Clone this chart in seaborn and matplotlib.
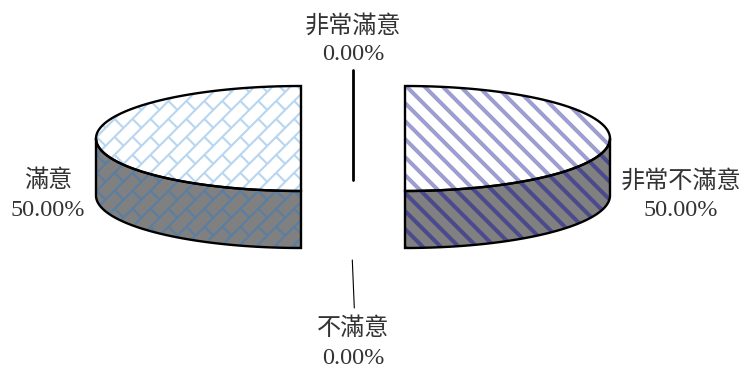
import numpy as np
import matplotlib
matplotlib.use("Agg")
import matplotlib.pyplot as plt
import seaborn as sns
from matplotlib.patches import Polygon
from matplotlib.collections import LineCollection

categories = ["非常不滿意", "不滿意", "滿意", "非常滿意"]
shares = [50.0, 0.0, 50.0, 0.0]

sns.set_theme(style="white")
plt.rcParams['font.family'] = ['Liberation Serif', 'Noto Sans CJK TC']

# pixel layout of the pie
RX, RY, DEPTH = 205, 52.5, 57
CX, CY = 353, 138.5
EXPLODE = 52
TILT = 0.3
BLUE_TOP, BLUE_SIDE = "#9d9dd2", "#4a4a8c"
BRICK_TOP, BRICK_SIDE = "#b8d6f0", "#5a7ea2"
WALL = "#808080"


def rim(cx, cy, a, b):
    t = np.radians(np.linspace(a, b, 200))
    return cx + RX * np.sin(t), cy - RY * np.cos(t)


def stripes(ax, patch, color):
    segs = [[(c, 0), (c + 372, 372)] for c in np.arange(-400, 744, 18)]
    lc = LineCollection(segs, colors=color, linewidths=2.9, zorder=2)
    ax.add_collection(lc)
    lc.set_clip_path(patch)


def bricks(ax, patch, color):
    # rows run up-right, short joints between them (u along the row, v across)
    row, length = 12.7, 25.4
    r2 = np.sqrt(2)
    segs = []
    for n, v in enumerate(np.arange(0, 800, row)):
        segs.append([((-600 + v) / r2, (v + 600) / r2), ((800 + v) / r2, (v - 800) / r2)])
        for u in np.arange(-600, 800, length) + (n % 2) * length / 2:
            segs.append([((u + v) / r2, (v - u) / r2), ((u + v + row) / r2, (v + row - u) / r2)])
    lc = LineCollection(segs, colors=color, linewidths=1.5, zorder=2)
    ax.add_collection(lc)
    lc.set_clip_path(patch)


def draw_half(ax, cx, a, b, top_col, side_col, hatch):
    xs, ys = rim(cx, CY, a, b)
    top = Polygon(np.c_[xs, ys], closed=True, fc="white", ec="none", zorder=1)
    ax.add_patch(top)
    # front wall only, angles 90-270
    fa, fb = max(a, 90), min(b, 270)
    xf, yf = rim(cx, CY, fa, fb)
    wall = np.r_[np.c_[xf, yf], np.c_[xf[::-1], yf[::-1] + DEPTH]]
    side = Polygon(wall, closed=True, fc=WALL, ec="none", zorder=1)
    ax.add_patch(side)
    hatch(ax, top, top_col)
    hatch(ax, side, side_col)
    ax.add_patch(Polygon(np.c_[xs, ys], closed=True, fc="none", ec="black", lw=1.7, zorder=3))
    ax.add_patch(Polygon(wall, closed=True, fc="none", ec="black", lw=1.7, zorder=3))


fig = plt.figure(figsize=(7.44, 3.72), dpi=100)
ax = fig.add_axes([0, 0, 1, 1])
ax.set_xlim(0, 744)
ax.set_ylim(372, 0)
ax.axis("off")

# slices go clockwise from the top
start = 0
for cat, val in zip(categories, shares):
    end = start + val * 3.6
    mid = (start + end) / 2
    if val > 0:
        cx = CX + EXPLODE * np.sin(np.radians(mid))
        draw_half(ax, cx, start, end, BLUE_TOP if mid < 180 else BRICK_TOP,
                  BLUE_SIDE if mid < 180 else BRICK_SIDE,
                  stripes if mid < 180 else bricks)
    elif mid == 360:
        # zero slice seen edge-on: rim to centre plus the wall
        cy = CY - EXPLODE * TILT
        ax.plot([CX, CX], [cy - RY, cy + DEPTH], color="black", lw=2.0, zorder=3)
    start = end

# leader line of the 0% slice at the bottom
ax.plot([352.3, 354.3], [260, 308], color="black", lw=0.8)

font = 17.4
label_pos = [(681, 195), (353, 343), (48, 195), (353, 40)]
for cat, val, (x, y) in zip(categories, shares, label_pos):
    ax.text(x, y - 14, cat, ha="center", va="center", fontsize=font, color="#333333")
    ax.text(x, y + 15, f"{val:.2f}%", ha="center", va="center", fontsize=font, color="#333333")

fig.savefig("out.png", dpi=100)
